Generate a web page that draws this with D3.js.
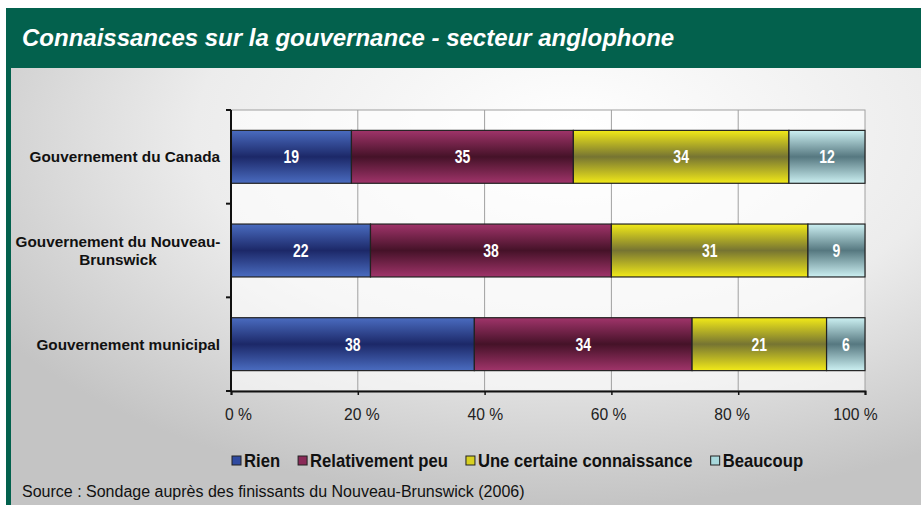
<!DOCTYPE html>
<html>
<head>
<meta charset="utf-8">
<script src="https://cdn.jsdelivr.net/npm/d3@7"></script>
<style>
  body { margin: 0; background: #fff; }
  svg { display: block; }
  text { font-family: "Liberation Sans", Arial, sans-serif; }
</style>
</head>
<body>
<div id="chart"></div>
<script>
// data
const categories = ["Gouvernement du Canada", "Gouvernement du Nouveau-Brunswick", "Gouvernement municipal"];
const categoryLines = [["Gouvernement du Canada"], ["Gouvernement du Nouveau-", "Brunswick"], ["Gouvernement municipal"]];
const seriesNames = ["Rien", "Relativement peu", "Une certaine connaissance", "Beaucoup"];
const rien = [19, 22, 38];
const relativementPeu = [35, 38, 34];
const certaine = [34, 31, 21];
const beaucoup = [12, 9, 6];
const xTicks = [0, 0.2, 0.4, 0.6, 0.8, 1];

const title = "Connaissances sur la gouvernance - secteur anglophone";
const source = "Source : Sondage auprès des finissants du Nouveau-Brunswick (2006)";

// colours: [edge, middle] of each bar's vertical gradient
const colors = [
  ["#4a6cc0", "#1c2868"],
  ["#a0346a", "#451228"],
  ["#f2ea18", "#767432"],
  ["#ccf0f2", "#567880"]
];
const legendColors = ["#2f4aa0", "#8a2a58", "#d8d020", "#a8d8dc"];

const width = 921, height = 505;
const margin = { left: 231, right: 56, top: 110, bottom: 114 };

const table = categories.map((c, i) => ({
  cat: c,
  "Rien": rien[i],
  "Relativement peu": relativementPeu[i],
  "Une certaine connaissance": certaine[i],
  "Beaucoup": beaucoup[i]
}));

const stacked = d3.stack()
  .keys(seriesNames)
  .offset(d3.stackOffsetExpand)(table);

const svg = d3.select("#chart")
  .append("svg")
  .attr("width", width)
  .attr("height", height);

const defs = svg.append("defs");

// background
const bg = defs.append("radialGradient")
  .attr("id", "bg")
  .attr("cx", 0.62).attr("cy", 0.25).attr("r", 0.75);
bg.append("stop").attr("offset", "0%").attr("stop-color", "#ffffff");
bg.append("stop").attr("offset", "55%").attr("stop-color", "#ececec");
bg.append("stop").attr("offset", "100%").attr("stop-color", "#c4c4c4");

colors.forEach((c, i) => {
  const g = defs.append("linearGradient")
    .attr("id", "bar" + i)
    .attr("x1", 0).attr("y1", 0).attr("x2", 0).attr("y2", 1);
  g.append("stop").attr("offset", "0%").attr("stop-color", c[0]);
  g.append("stop").attr("offset", "50%").attr("stop-color", c[1]);
  g.append("stop").attr("offset", "100%").attr("stop-color", c[0]);
});

svg.append("rect")
  .attr("x", 6).attr("y", 8)
  .attr("width", width - 6).attr("height", height - 8)
  .attr("fill", "url(#bg)");

// header band + left border
svg.append("rect")
  .attr("x", 6).attr("y", 8)
  .attr("width", width - 6).attr("height", 60)
  .attr("fill", "#03614d");
svg.append("rect")
  .attr("x", 6).attr("y", 8)
  .attr("width", 5).attr("height", height - 8)
  .attr("fill", "#03614d");

svg.append("text")
  .attr("x", 22).attr("y", 46)
  .attr("fill", "#fff")
  .attr("font-weight", "bold")
  .attr("font-style", "italic")
  .attr("font-size", 24)
  .text(title);

const x = d3.scaleLinear()
  .domain([0, 1])
  .range([margin.left, width - margin.right]);

const y = d3.scaleBand()
  .domain(categories)
  .range([margin.top, height - margin.bottom])
  .paddingInner(0.435)
  .paddingOuter(0.2175);

// plot area
svg.append("rect")
  .attr("x", x(0)).attr("y", margin.top)
  .attr("width", x(1) - x(0)).attr("height", height - margin.bottom - margin.top)
  .attr("fill", "#ffffff").attr("fill-opacity", 0.6)
  .attr("stroke", "#a0a0a0");

svg.append("g")
  .selectAll("line")
  .data(xTicks.slice(1, -1))
  .join("line")
  .attr("x1", d => x(d)).attr("x2", d => x(d))
  .attr("y1", margin.top).attr("y2", height - margin.bottom)
  .attr("stroke", "#a0a0a0");

// bars
const layer = svg.append("g")
  .selectAll("g")
  .data(stacked)
  .join("g")
  .attr("fill", (d, i) => `url(#bar${i})`);

layer.selectAll("rect")
  .data(d => d)
  .join("rect")
  .attr("x", d => x(d[0]))
  .attr("y", d => y(d.data.cat))
  .attr("width", d => x(d[1]) - x(d[0]))
  .attr("height", y.bandwidth())
  .attr("stroke", "#222")
  .attr("stroke-width", 1.2);

// value labels, condensed
layer.selectAll("text")
  .data(d => d.map(v => ({ v, key: d.key })))
  .join("text")
  .attr("transform", d => {
    const cx = (x(d.v[0]) + x(d.v[1])) / 2;
    const cy = y(d.v.data.cat) + y.bandwidth() / 2 + 6.5;
    return `translate(${cx},${cy}) scale(0.8,1)`;
  })
  .attr("text-anchor", "middle")
  .attr("fill", "#fff")
  .attr("font-weight", "bold")
  .attr("font-size", 17.5)
  .text(d => d.v.data[d.key]);

// y axis
const yAxisG = svg.append("g");
yAxisG.append("line")
  .attr("x1", x(0)).attr("x2", x(0))
  .attr("y1", margin.top).attr("y2", height - margin.bottom)
  .attr("stroke", "#111").attr("stroke-width", 2);
const yBounds = categories.map(c => y(c) - y.step() * y.paddingInner() / 2)
  .concat([height - margin.bottom]);
yBounds[0] = margin.top;
yAxisG.selectAll(".tick")
  .data(yBounds)
  .join("line")
  .attr("x1", x(0) - 5).attr("x2", x(0))
  .attr("y1", d => d).attr("y2", d => d)
  .attr("stroke", "#111").attr("stroke-width", 2);

svg.append("g")
  .selectAll("text")
  .data(categoryLines)
  .join("text")
  .attr("font-weight", "bold")
  .attr("font-size", 15.3)
  .attr("fill", "#111")
  .attr("text-anchor", d => d.length > 1 ? "middle" : "end")
  .each(function (lines, i) {
    const cy = y(categories[i]) + y.bandwidth() / 2;
    const t = d3.select(this);
    const n = lines.length;
    lines.forEach((l, j) => {
      t.append("tspan")
        .attr("x", n > 1 ? 118 : 220)
        .attr("y", cy + 5.5 + (j - (n - 1) / 2) * 18)
        .text(l);
    });
  });

// x axis
const xAxis = d3.axisBottom(x)
  .tickValues(xTicks)
  .tickSize(4)
  .tickFormat(d => Math.round(d * 100) + " %");

const xg = svg.append("g")
  .attr("transform", `translate(0,${height - margin.bottom})`)
  .call(xAxis);
xg.select(".domain").attr("stroke", "#111").attr("stroke-width", 2);
xg.selectAll(".tick line").attr("stroke", "#111").attr("stroke-width", 1.5);
xg.selectAll(".tick text")
  .attr("font-family", null)
  .attr("font-size", 16.5)
  .attr("fill", "#222")
  .attr("transform", d => `translate(${7 - d * 17},22) scale(0.95,1)`)
  .attr("dy", 0);

// legend, laid out left to right from measured text widths
const legendSX = 0.9;
const legend = svg.append("g")
  .selectAll("g")
  .data(seriesNames)
  .join("g");
legend.append("rect")
  .attr("y", 456)
  .attr("width", 9).attr("height", 9)
  .attr("fill", (d, i) => legendColors[i])
  .attr("stroke", "#222");
legend.append("text")
  .attr("font-size", 18.5)
  .attr("font-weight", "bold")
  .attr("fill", "#111")
  .text(d => d);
let lx = 232;
legend.each(function () {
  const g = d3.select(this);
  const tw = g.select("text").node().getComputedTextLength() * legendSX;
  g.select("rect").attr("x", lx);
  g.select("text").attr("transform", `translate(${lx + 12},467) scale(${legendSX},1)`);
  lx += 12 + tw + 18;
});

svg.append("text")
  .attr("x", 22).attr("y", 497)
  .attr("font-size", 16)
  .attr("fill", "#111")
  .text(source);
</script>
</body>
</html>
